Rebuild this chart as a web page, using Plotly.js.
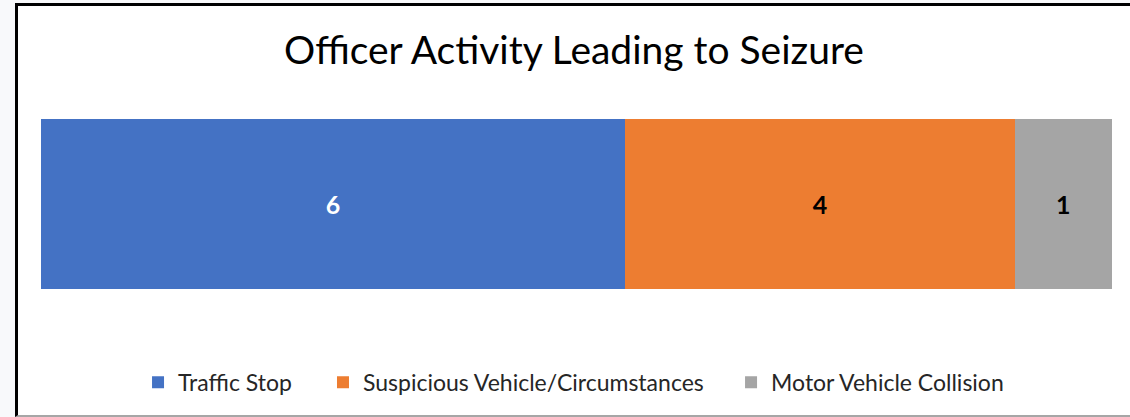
<!DOCTYPE html>
<html>
<head>
<meta charset="utf-8">
<script src="https://cdn.plot.ly/plotly-3.0.1.min.js"></script>
<style>
  html, body { margin: 0; padding: 0; background: #f8f9fb; width: 1130px; height: 417px; overflow: hidden; }
  #frame { position: absolute; left: 15px; top: 3px; width: 1112px; height: 409px;
           border-left: 3px solid #000; border-top: 3px solid #000; border-bottom: 2px solid #a6a6a6; background: #fff; }
  #chart { width: 1112px; height: 409px; }
</style>
</head>
<body>
<div id="frame"><div id="chart"></div></div>
<script>
const categories = ["Traffic Stop", "Suspicious Vehicle/Circumstances", "Motor Vehicle Collision"];
const values = [6, 4, 1];
const colors = ["#4472c4", "#ed7d31", "#a5a5a5"];
const labelColors = ["#ffffff", "#000000", "#000000"];
const chartTitle = "Officer Activity Leading to Seizure";

const legendIds = ["legend", "legend2", "legend3"];
const legendX = [0.0906, 0.2633, 0.6443];

const traces = categories.map((name, i) => ({
  type: "bar",
  orientation: "h",
  name: name,
  y: [""],
  x: [values[i]],
  legend: legendIds[i],
  marker: { color: colors[i] },
  text: [String(values[i])],
  textposition: "inside",
  insidetextanchor: "middle",
  textfont: { family: "Lato, sans-serif", size: 25, color: labelColors[i], weight: "bold" },
  hoverinfo: "name+x"
}));

const total = values.reduce((a, b) => a + b, 0);

const layout = {
  width: 1112, height: 409,
  margin: { l: 23, r: 18, t: 113, b: 125 },
  paper_bgcolor: "#ffffff",
  plot_bgcolor: "#ffffff",
  barmode: "stack",
  bargap: 0,
  showlegend: true,
  font: { family: "Lato, sans-serif", color: "#404040" },
  title: {
    text: chartTitle,
    font: { family: "Lato, sans-serif", size: 39, color: "#000000" },
    x: 0.5, xanchor: "center",
    y: 1 - 44 / 409, yref: "container", yanchor: "middle"
  },
  xaxis: { range: [0, total], visible: false, fixedrange: true },
  yaxis: { visible: false, fixedrange: true }
};

legendIds.forEach((id, i) => {
  layout[id] = {
    orientation: "h",
    x: legendX[i], xanchor: "left",
    y: -0.54, yanchor: "middle",
    font: { family: "Lato, sans-serif", size: 23, color: "#262626" },
    itemwidth: 30,
    bgcolor: "rgba(0,0,0,0)"
  };
});

Plotly.newPlot("chart", traces, layout, { displayModeBar: false, staticPlot: true });
</script>
</body>
</html>
